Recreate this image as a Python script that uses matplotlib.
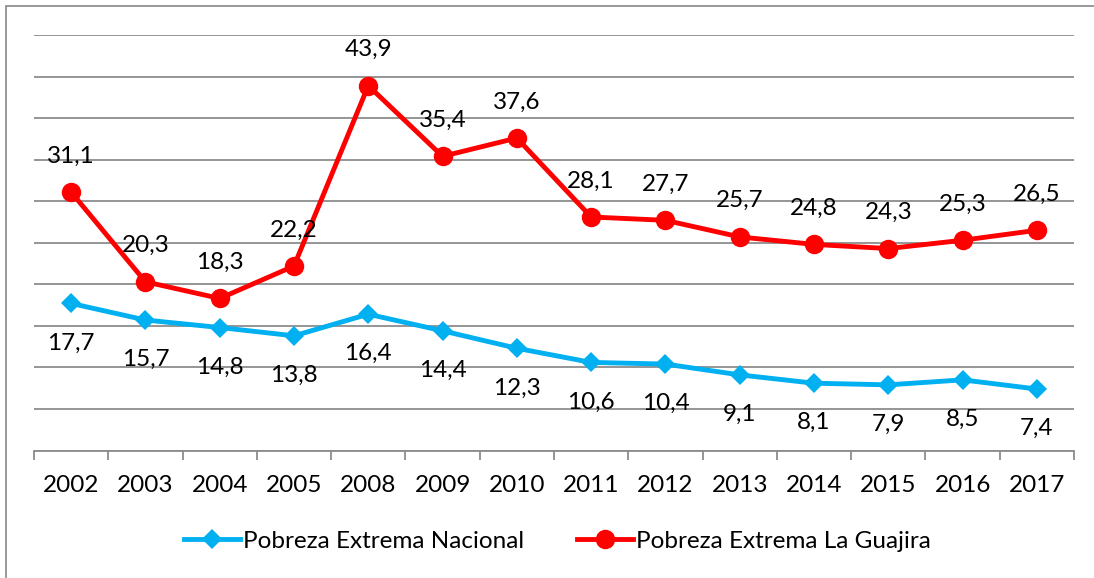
import matplotlib
matplotlib.use("Agg")
import matplotlib.pyplot as plt
from matplotlib.patches import Rectangle
from matplotlib.lines import Line2D

years = ["2002", "2003", "2004", "2005", "2008", "2009", "2010", "2011",
         "2012", "2013", "2014", "2015", "2016", "2017"]
nacional = [17.7, 15.7, 14.8, 13.8, 16.4, 14.4, 12.3, 10.6, 10.4, 9.1, 8.1, 7.9, 8.5, 7.4]
guajira = [31.1, 20.3, 18.3, 22.2, 43.9, 35.4, 37.6, 28.1, 27.7, 25.7, 24.8, 24.3, 25.3, 26.5]
name_nac = "Pobreza Extrema Nacional"
name_gua = "Pobreza Extrema La Guajira"

plt.rcParams['font.family'] = ['Lato', 'DejaVu Sans']
FS = 17.5
BLUE = "#00B0F0"
RED = "#FF0000"
GRID = "#8C8C8C"

fig = plt.figure(figsize=(10.94, 5.78), dpi=100)
ax = fig.add_axes([34/1094, 1-450.5/578, (1074-34)/1094, (450.5-35)/578])

x = list(range(len(years)))
ax.plot(x, nacional, color=BLUE, lw=3.5, marker='D', ms=10.5, mew=0, zorder=3)
ax.plot(x, guajira, color=RED, lw=3.5, marker='o', ms=14, mew=0, zorder=3)

for xi, v in zip(x, nacional):
    ax.annotate(f"{v:.1f}".replace('.', ','), (xi, v), xytext=(0, -28.5),
                textcoords='offset points', ha='center', va='center', fontsize=FS)
for xi, v in zip(x, guajira):
    ax.annotate(f"{v:.1f}".replace('.', ','), (xi, v), xytext=(0, 26),
                textcoords='offset points', ha='center', va='center', fontsize=FS)

ax.set_xlim(-0.5, len(years) - 0.5)
ax.set_ylim(0, 50)
ax.set_yticks(range(0, 51, 5))
ax.yaxis.grid(True, color=GRID, lw=1.3)
ax.set_axisbelow(True)
ax.tick_params(axis='y', left=False, labelleft=False)
for s in ['top', 'right', 'left']:
    ax.spines[s].set_visible(False)
ax.spines['bottom'].set_color(GRID)
ax.spines['bottom'].set_linewidth(1.3)

ax.set_xticks([i - 0.5 for i in range(len(years) + 1)])
ax.set_xticklabels([])
ax.set_xticks(x, minor=True)
ax.set_xticklabels(years, minor=True, fontsize=FS)
ax.tick_params(axis='x', which='major', length=6.5, width=1.3, color=GRID, direction='out')
ax.tick_params(axis='x', which='minor', length=0, pad=18)

handles = [Line2D([], [], color=BLUE, lw=3.5, marker='D', ms=10.5, mew=0),
           Line2D([], [], color=RED, lw=3.5, marker='o', ms=14, mew=0)]
fig.legend(handles, [name_nac, name_gua], loc='center', bbox_to_anchor=(0.5096, 1-541/578),
           ncol=2, frameon=False, fontsize=FS, handlelength=2.3, handletextpad=0.12,
           columnspacing=2.2, borderpad=0, borderaxespad=0)

fig.add_artist(Rectangle((6/1094, -0.05), 1.2, 1-6/578+0.05, transform=fig.transFigure,
                         fill=False, edgecolor="#878787", lw=1.2))

fig.savefig("out.png", dpi=100)
